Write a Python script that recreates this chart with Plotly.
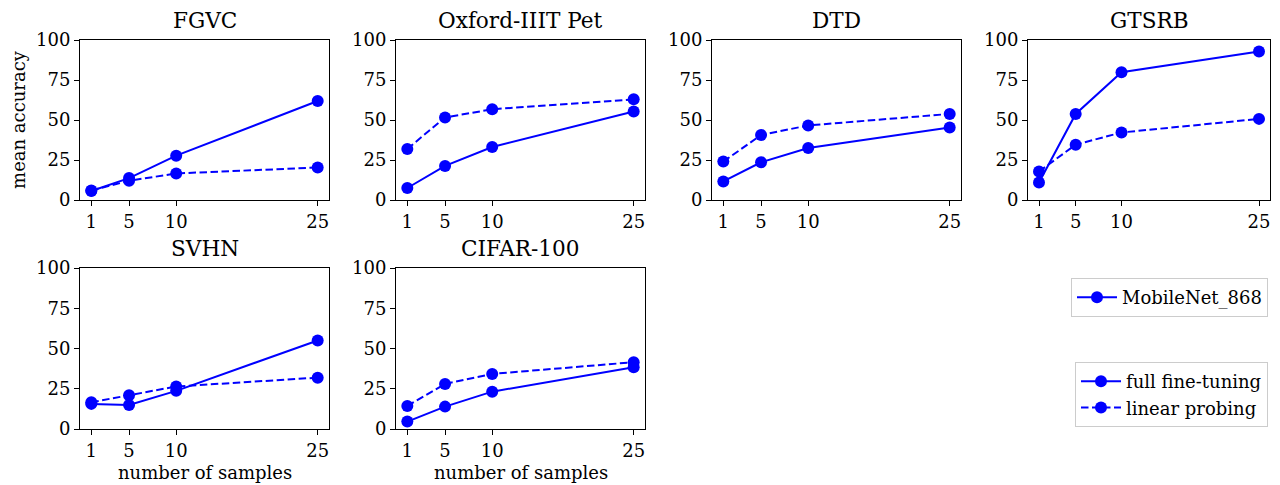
import plotly.graph_objects as go

samples = [1, 5, 10, 25]
titles = ["FGVC", "Oxford-IIIT Pet", "DTD", "GTSRB", "SVHN", "CIFAR-100"]
full_ft = [
    [5.6, 13.7, 27.7, 61.9],
    [7.5, 21.3, 33.1, 55.3],
    [11.6, 23.6, 32.5, 45.3],
    [10.9, 53.8, 79.9, 92.8],
    [15.6, 14.9, 23.7, 55.0],
    [4.6, 13.9, 23.2, 38.4],
]
lin_probe = [
    [6.0, 12.0, 16.6, 20.3],
    [31.9, 51.6, 56.7, 62.9],
    [24.0, 40.6, 46.6, 53.8],
    [17.8, 34.6, 42.2, 50.7],
    [16.6, 21.0, 26.4, 31.9],
    [14.3, 28.0, 34.2, 41.5],
]
yticks = [0, 25, 50, 75, 100]
model_name = "MobileNet_868"
method_names = ["full fine-tuning", "linear probing"]
x_label = "number of samples"
y_label = "mean accuracy"

# page body has an 8px margin: the figure starts at (8, 8) on the page
OFF = 8
W, H = 1280 - 2 * OFF, 485 - OFF
BLUE = "#0000ff"
FONT = "DejaVu Serif"
DASH = "7.5px,3.5px"

# panel geometry in (page) pixels: left, right
col_edges = [(80, 329), (396, 645), (712, 961), (1028, 1270)]
row_edges = [(40, 200), (268, 429)]


def px_x(v):
    return (v - OFF) / W


def px_y(v):
    return 1 - (v - OFF) / H


fig = go.Figure()
positions = [(0, 0), (0, 1), (0, 2), (0, 3), (1, 0), (1, 1)]
tickfont = dict(family=FONT, size=18, color="black")

for k, (r, c) in enumerate(positions):
    idx = k + 1
    xa = "x" if idx == 1 else f"x{idx}"
    ya = "y" if idx == 1 else f"y{idx}"
    x0 = px_x(col_edges[c][0])
    x1 = min(1.0, px_x(col_edges[c][1]))
    y1 = px_y(row_edges[r][0])
    y0 = px_y(row_edges[r][1])
    fig.add_trace(go.Scatter(
        x=samples, y=full_ft[k], mode="lines+markers", xaxis=xa, yaxis=ya,
        line=dict(color=BLUE, width=2), marker=dict(size=12, color=BLUE),
        showlegend=False, cliponaxis=False))
    fig.add_trace(go.Scatter(
        x=samples, y=lin_probe[k], mode="lines+markers", xaxis=xa, yaxis=ya,
        line=dict(color=BLUE, width=2, dash=DASH), marker=dict(size=12, color=BLUE),
        showlegend=False, cliponaxis=False))
    axcommon = dict(showline=True, linecolor="black", linewidth=1, mirror=True,
                    showgrid=False, zeroline=False, ticks="outside", ticklen=5,
                    tickwidth=1, tickcolor="black", automargin=False,
                    tickfont=tickfont)
    xaxis = dict(domain=[x0, x1], anchor=ya, range=[-0.2, 26.2],
                 tickmode="array", tickvals=samples,
                 ticktext=[str(s) for s in samples], **axcommon)
    yaxis = dict(domain=[y0, y1], anchor=xa, range=[0, 100],
                 tickmode="array", tickvals=yticks,
                 ticktext=[str(t) for t in yticks], **axcommon)
    if k == 0:
        yaxis["title"] = dict(text=y_label, standoff=6,
                              font=dict(family=FONT, size=18, color="black"))
    key = "" if idx == 1 else str(idx)
    fig.update_layout(**{f"xaxis{key}": xaxis, f"yaxis{key}": yaxis})
    fig.add_annotation(text=titles[k], xref="paper", yref="paper",
                       x=(x0 + x1) / 2, y=y1, yshift=5, xanchor="center",
                       yanchor="bottom", showarrow=False,
                       font=dict(family=FONT, size=21.6, color="black"))
    if r == 1:
        fig.add_annotation(text=x_label, xref="paper", yref="paper",
                           x=(x0 + x1) / 2, y=px_y(472), xanchor="center",
                           yanchor="middle", showarrow=False,
                           font=dict(family=FONT, size=18, color="black"))

# legend-only traces
fig.add_trace(go.Scatter(x=[None], y=[None], mode="lines+markers", name=model_name,
                         line=dict(color=BLUE, width=2), marker=dict(size=12, color=BLUE),
                         legend="legend"))
fig.add_trace(go.Scatter(x=[None], y=[None], mode="lines+markers", name=method_names[0],
                         line=dict(color=BLUE, width=2), marker=dict(size=12, color=BLUE),
                         legend="legend2"))
fig.add_trace(go.Scatter(x=[None], y=[None], mode="lines+markers", name=method_names[1],
                         line=dict(color=BLUE, width=2, dash=DASH),
                         marker=dict(size=12, color=BLUE), legend="legend2"))

legfont = dict(family=FONT, size=18, color="black")
fig.update_layout(
    template="none",
    width=W, height=H, margin=dict(l=0, r=0, t=0, b=0, pad=0),
    paper_bgcolor="white", plot_bgcolor="white",
    font=dict(family=FONT, color="black"),
    showlegend=True,
    legend=dict(x=px_x(1268), y=px_y(278), xanchor="right", yanchor="top",
                bordercolor="#cccccc", borderwidth=1, font=legfont,
                bgcolor="white", itemwidth=40),
    legend2=dict(x=px_x(1268), y=px_y(362), xanchor="right", yanchor="top",
                 bordercolor="#cccccc", borderwidth=1, font=legfont,
                 bgcolor="white", itemwidth=40),
)

fig.write_html("out.html")
